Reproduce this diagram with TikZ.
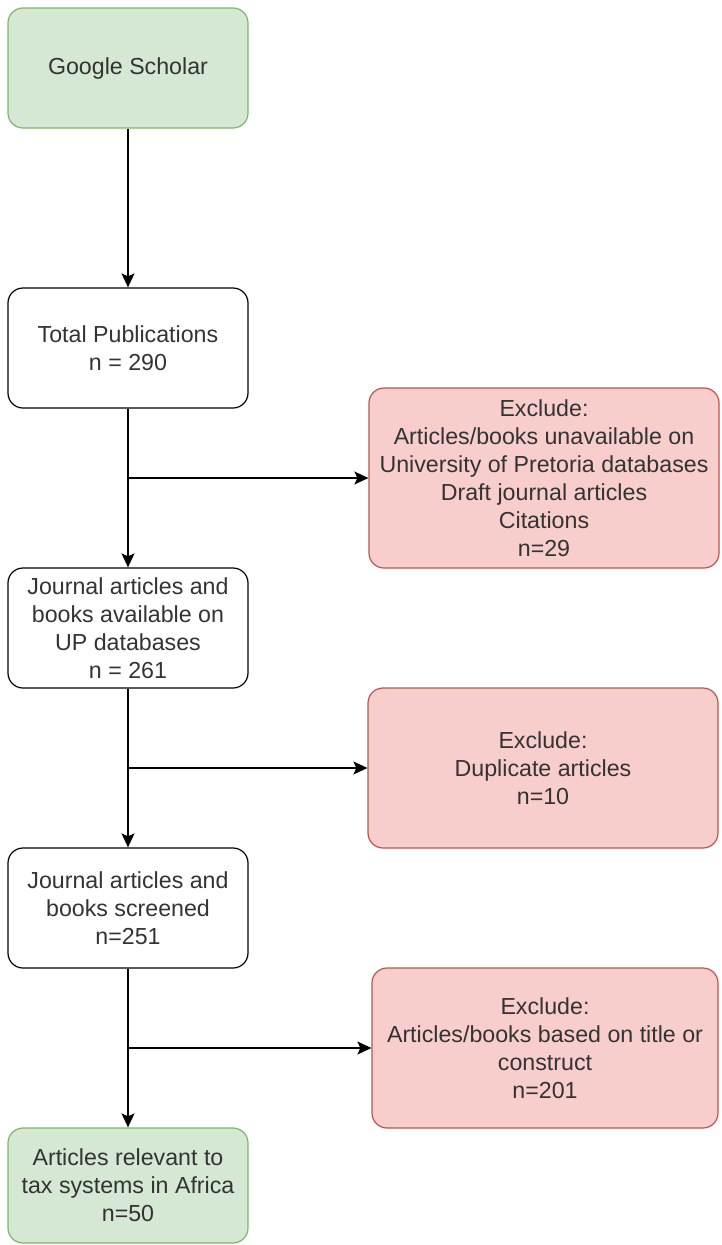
\documentclass[tikz,border=0pt]{standalone}
\usepackage{fontspec}
\setmainfont{Liberation Sans}
\usetikzlibrary{arrows.meta}
\definecolor{gfill}{HTML}{D5E8D4}
\definecolor{gdraw}{HTML}{82B366}
\definecolor{rfill}{HTML}{F8CECC}
\definecolor{rdraw}{HTML}{B85450}
\definecolor{txt}{HTML}{333333}
\tikzset{
  box/.style={draw=black, line width=1.2pt, rounded corners=15pt, align=center, inner sep=0pt,
    minimum width=240pt, minimum height=120pt, text=txt,
    font=\fontsize{23.2}{28}\selectfont},
  greenbox/.style={box, fill=gfill, draw=gdraw},
  redbox/.style={box, fill=rfill, draw=rdraw, minimum width=350pt},
  conn/.style={line width=1.4pt, -{Stealth[length=14pt,width=13pt,inset=3pt]}},
}
\begin{document}
\begin{tikzpicture}[x=1pt,y=-1pt]
\useasboundingbox (0,0) rectangle (721,1245);
\node[greenbox] (gs) at (128,68) {Google Scholar};
\node[box] (tp) at (128,348) {Total Publications\\n = 290};
\node[box] (jup) at (128,628) {Journal articles and\\books available on\\UP databases\\n = 261};
\node[box] (scr) at (128,908) {Journal articles and\\books screened\\n=251};
\node[greenbox, minimum height=115pt] (rel) at (128,1185.5) {Articles relevant to\\tax systems in Africa\\n=50};
\node[redbox, minimum height=180pt] (ex1) at (544,478) {Exclude:\\Articles/books unavailable on\\University of Pretoria databases\\Draft journal articles\\Citations\\n=29};
\node[redbox, minimum height=160pt] (ex2) at (543,768) {Exclude:\\Duplicate articles\\n=10};
\node[redbox, minimum height=160pt, minimum width=346pt] (ex3) at (545,1048) {Exclude:\\Articles/books based on title or\\construct\\n=201};
\coordinate (b1) at (128,478);
\coordinate (b2) at (128,768);
\coordinate (b3) at (128,1048);
\draw[conn] (gs) -- (tp);
\draw[conn] (tp) -- (jup);
\draw[conn] (jup) -- (scr);
\draw[conn] (scr) -- (rel);
\draw[conn] (b1) -- (ex1.west);
\draw[conn] (b2) -- (ex2.west);
\draw[conn] (b3) -- (ex3.west);
\end{tikzpicture}
\end{document}
